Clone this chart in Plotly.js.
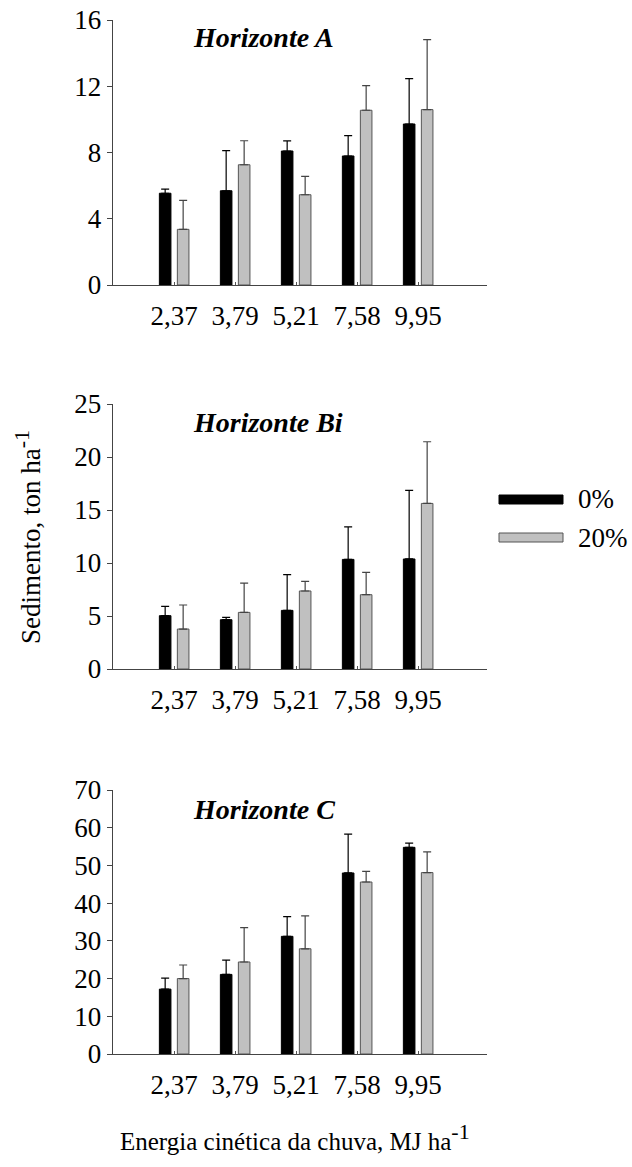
<!DOCTYPE html>
<html>
<head>
<meta charset="utf-8">
<script src="https://cdn.plot.ly/plotly-3.0.1.min.js"></script>
<style>html,body{margin:0;padding:0;background:#fff;}#chart{width:632px;height:1167px;}</style>
</head>
<body>
<div id="chart"></div>
<script>
const categories = ['2,37', '3,79', '5,21', '7,58', '9,95'];
const seriesNames = ['0%', '20%'];
const panelTitles = ['Horizonte A', 'Horizonte Bi', 'Horizonte C'];

const horA_0 = [5.54, 5.69, 8.09, 7.79, 9.72];
const horA_0_err = [0.25, 2.42, 0.61, 1.23, 2.74];
const horA_20 = [3.36, 7.26, 5.45, 10.55, 10.59];
const horA_20_err = [1.75, 1.45, 1.11, 1.49, 4.22];

const horBi_0 = [5.03, 4.65, 5.53, 10.34, 10.38];
const horBi_0_err = [0.88, 0.22, 3.37, 3.06, 6.47];
const horBi_20 = [3.77, 5.34, 7.36, 7.01, 15.62];
const horBi_20_err = [2.27, 2.77, 0.90, 2.10, 5.82];

const horC_0 = [17.2, 21.1, 31.2, 48.0, 54.8];
const horC_0_err = [2.9, 3.8, 5.2, 10.3, 1.1];
const horC_20 = [20.0, 24.4, 27.9, 45.6, 48.1];
const horC_20_err = [3.6, 9.1, 8.7, 2.8, 5.5];

const yMax = [16, 25, 70];
const yStep = [4, 5, 10];

const W = 632, H = 1167;
const FONT = 'Liberation Serif';
const xPos = categories.map((c, i) => i + 1);
const zeros = categories.map(() => 0);

const panels = [
  [horA_0, horA_0_err, horA_20, horA_20_err],
  [horBi_0, horBi_0_err, horBi_20, horBi_20_err],
  [horC_0, horC_0_err, horC_20, horC_20_err]
];
const plotBoxes = [[20, 285], [404, 669], [790, 1054]];
const xLeft = 113, xRight = 487;

const traces = [];
const layout = {
  width: W, height: H,
  margin: {l: 0, r: 0, t: 0, b: 0},
  paper_bgcolor: '#fff', plot_bgcolor: 'rgba(0,0,0,0)',
  font: {family: FONT, size: 26, color: '#000'},
  showlegend: false,
  barmode: 'overlay',
  annotations: [],
  shapes: []
};

panels.forEach((p, k) => {
  const xa = k === 0 ? 'x' : 'x' + (k + 1);
  const ya = k === 0 ? 'y' : 'y' + (k + 1);
  traces.push({
    type: 'bar', x: xPos, y: p[0], xaxis: xa, yaxis: ya, name: seriesNames[0],
    width: 0.19, offset: -0.24,
    marker: {color: '#000', line: {color: '#000', width: 1}},
    error_y: {type: 'data', symmetric: false, array: p[1], arrayminus: zeros, color: '#000', thickness: 1.2, width: 4},
    hoverinfo: 'y'
  });
  traces.push({
    type: 'bar', x: xPos, y: p[2], xaxis: xa, yaxis: ya, name: seriesNames[1],
    width: 0.19, offset: 0.055,
    marker: {color: '#c0c0c0', line: {color: '#555', width: 1}},
    error_y: {type: 'data', symmetric: false, array: p[3], arrayminus: zeros, color: '#444', thickness: 1.2, width: 4},
    hoverinfo: 'y'
  });
  const box = plotBoxes[k];
  const xKey = k === 0 ? 'xaxis' : 'xaxis' + (k + 1);
  const yKey = k === 0 ? 'yaxis' : 'yaxis' + (k + 1);
  layout[xKey] = {
    domain: [xLeft / W, xRight / W],
    range: [0, (xRight - xLeft) / 61],
    anchor: ya,
    tickmode: 'array', tickvals: xPos, ticktext: categories,
    ticks: 'inside', ticklen: 3, tickcolor: '#555', tickwidth: 1,
    ticklabelstandoff: 6,
    showline: true, linecolor: '#444', linewidth: 1.3,
    showgrid: false, zeroline: false, fixedrange: true,
    tickfont: {family: FONT, size: 27, color: '#000'}
  };
  layout[yKey] = {
    domain: [1 - box[1] / H, 1 - box[0] / H],
    range: [0, yMax[k]],
    anchor: xa,
    tickmode: 'linear', tick0: 0, dtick: yStep[k],
    ticks: 'outside', ticklen: 5, tickcolor: '#444', tickwidth: 1,
    showline: true, linecolor: '#444', linewidth: 1.3,
    showgrid: false, zeroline: false, fixedrange: true,
    tickfont: {family: FONT, size: 27, color: '#000'}
  };
  layout.annotations.push({
    xref: 'paper', yref: 'paper',
    x: 191 / W, y: 1 - [38, 422, 809][k] / H,
    xanchor: 'left', yanchor: 'middle', showarrow: false,
    text: '<b><i>' + panelTitles[k] + '</i></b>',
    font: {family: FONT, size: 28, color: '#000'}
  });
});

// legend (manual, wide swatches)
const legendY = [499.5, 537.5];
const legendFill = ['#000', '#c0c0c0'];
const legendLine = ['#000', '#555'];
seriesNames.forEach((n, i) => {
  layout.shapes.push({
    type: 'rect', xref: 'paper', yref: 'paper',
    x0: 499 / W, x1: 563 / W,
    y0: 1 - (legendY[i] - 4.5) / H, y1: 1 - (legendY[i] + 4.5) / H,
    fillcolor: legendFill[i], line: {color: legendLine[i], width: 1}
  });
  layout.annotations.push({
    xref: 'paper', yref: 'paper', x: 576 / W, y: 1 - legendY[i] / H,
    xanchor: 'left', yanchor: 'middle', showarrow: false,
    text: n, font: {family: FONT, size: 27, color: '#000'}
  });
});

// axis titles
const SUP = '<sup><span style="font-size:22px">-1</span></sup>';
layout.annotations.push({
  xref: 'paper', yref: 'paper', x: 27 / W, y: 1 - 537 / H,
  xanchor: 'center', yanchor: 'middle', showarrow: false, textangle: -90,
  text: 'Sedimento, ton ha' + SUP, font: {family: FONT, size: 27, color: '#000'}
});
layout.annotations.push({
  xref: 'paper', yref: 'paper', x: 295 / W, y: 1 - 1137 / H,
  xanchor: 'center', yanchor: 'middle', showarrow: false,
  text: 'Energia cinética da chuva, MJ ha' + SUP, font: {family: FONT, size: 25, color: '#000'}
});

Plotly.newPlot('chart', traces, layout, {staticPlot: true, displayModeBar: false});
</script>
</body>
</html>
